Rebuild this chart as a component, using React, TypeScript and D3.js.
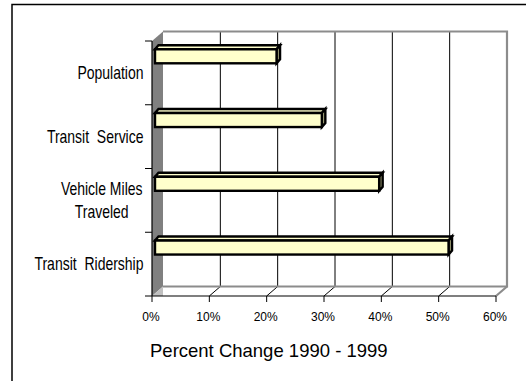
import React from "react";
import * as d3 from "d3";

const categories = ["Population", "Transit  Service", "Vehicle Miles\nTraveled", "Transit  Ridership"];
const values = [21.2, 29.1, 39.1, 51.2];
const xTicks = [0, 10, 20, 30, 40, 50, 60];
const xTickLabels = ["0%", "10%", "20%", "30%", "40%", "50%", "60%"];
const axisTitle = "Percent Change 1990 - 1999";

const W = 526;
const H = 381;
const FONT = "'Liberation Sans', Arial, sans-serif";

export default function App() {
  const x = d3.scaleLinear().domain([0, 60]).range([152, 496]);
  const y = d3.scaleBand<string>().domain(categories).range([41, 296]).paddingInner(0).paddingOuter(0);
  const DX = 11;
  const DY = -9.5;
  const yTop = 41;
  const yBot = 296;
  const x0 = x(0);
  const x1 = x(60);

  const barFrontOff = 3;
  const barH = 14;
  const barTopOffY = 8.3;
  const bdx = 3.5;
  const bdy = -4;

  const pts = (arr: number[][]) => arr.map((p) => p.join(",")).join(" ");

  return (
    <svg
      width={W}
      height={H}
      style={{ position: "fixed", left: 0, top: 0, background: "#fff" }}
      fontFamily={FONT}
    >
      <rect x={0} y={0} width={W} height={H} fill="#fff" />
      {/* outer frame */}
      <rect x={12} y={4.5} width={700} height={500} fill="none" stroke="#000" strokeWidth={1.5} />

      {/* back wall */}
      <rect x={x0 + DX} y={yTop + DY} width={x1 - x0} height={yBot - yTop} fill="#fff" />
      {/* floor */}
      <polygon
        points={pts([[x0, yBot], [x1, yBot], [x1 + DX, yBot + DY], [x0 + DX, yBot + DY]])}
        fill="#fff"
      />
      {/* back wall gridlines */}
      {xTicks.slice(1, -1).map((t) => (
        <line key={"g" + t} x1={x(t) + DX} x2={x(t) + DX} y1={yTop + DY} y2={yBot + DY} stroke="#000" strokeWidth={1} />
      ))}
      {/* floor diagonals */}
      {xTicks.slice(1, -1).map((t) => (
        <line key={"f" + t} x1={x(t)} x2={x(t) + DX} y1={yBot} y2={yBot + DY} stroke="#000" strokeWidth={1} />
      ))}
      {/* back wall border */}
      <polyline
        points={pts([[x0 + DX, yTop + DY], [x1 + DX, yTop + DY], [x1 + DX, yBot + DY], [x0 + DX, yBot + DY]])}
        fill="none"
        stroke="#8c8c8c"
        strokeWidth={2.2}
      />
      <line x1={x1} y1={yBot} x2={x1 + DX} y2={yBot + DY} stroke="#8c8c8c" strokeWidth={2.2} />
      {/* side wall */}
      <polygon
        points={pts([[x0, yTop], [x0 + DX, yTop + DY], [x0 + DX, yBot + DY], [x0, yBot]])}
        fill="#808080"
      />
      <polygon
        points={pts([[x0, yBot], [x0 + DX, yBot + DY], [x0 + DX, yBot]])}
        fill="#c0c0c0"
      />

      {/* bars */}
      {categories.map((c, i) => {
        const v = values[i];
        const xl = x(0) + barFrontOff;
        const xr = x(v) + barFrontOff;
        const yt = (y(c) as number) + barTopOffY;
        const yb = yt + barH;
        return (
          <g key={"b" + i} stroke="#000" strokeWidth={2.4} strokeLinejoin="miter">
            <polygon points={pts([[xl, yt], [xl + bdx, yt + bdy], [xr + bdx, yt + bdy], [xr, yt]])} fill="#ffffcc" />
            <polygon points={pts([[xr, yt], [xr + bdx, yt + bdy], [xr + bdx, yb + bdy], [xr, yb]])} fill="#a6a67c" />
            <rect x={xl} y={yt} width={xr - xl} height={barH} fill="#ffffcc" />
          </g>
        );
      })}

      {/* y axis */}
      <line x1={x0} x2={x0} y1={yTop} y2={yBot} stroke="#000" strokeWidth={1.2} />
      {[...categories.map((c) => y(c) as number), yBot].map((t, i) => (
        <line key={"yt" + i} x1={x0 - 7} x2={x0} y1={t} y2={t} stroke="#000" strokeWidth={1} />
      ))}
      {/* x axis */}
      <line x1={x0} x2={x1} y1={yBot} y2={yBot} stroke="#000" strokeWidth={1.2} />
      {xTicks.map((t, i) => (
        <g key={"xt" + t}>
          <line x1={x(t)} x2={x(t)} y1={yBot} y2={yBot + 6} stroke="#000" strokeWidth={1} />
          <text x={x(t) - 1} y={321} fontSize={12} textAnchor="middle" fill="#000">
            {xTickLabels[i]}
          </text>
        </g>
      ))}

      {/* category labels */}
      {categories.map((c) => {
        const lines = c.split("\n");
        const cy = (y(c) as number) + y.bandwidth() / 2;
        const lh = 23.4;
        const multi = lines.length > 1;
        const ax = multi ? 101.7 : 143.5;
        return lines.map((ln, j) => {
          const by = cy + 6 - ((lines.length - 1) * lh) / 2 + j * lh;
          return (
            <text
              key={c + j}
              transform={`translate(${ax},${by}) scale(0.8,1)`}
              fontSize={17.5}
              textAnchor={multi ? "middle" : "end"}
              fill="#000"
              style={{ whiteSpace: "pre" }}
            >
              {ln}
            </text>
          );
        });
      })}

      {/* axis title */}
      <text x={268.8} y={357} fontSize={18.5} textAnchor="middle" fill="#000">
        {axisTitle}
      </text>
    </svg>
  );
}
